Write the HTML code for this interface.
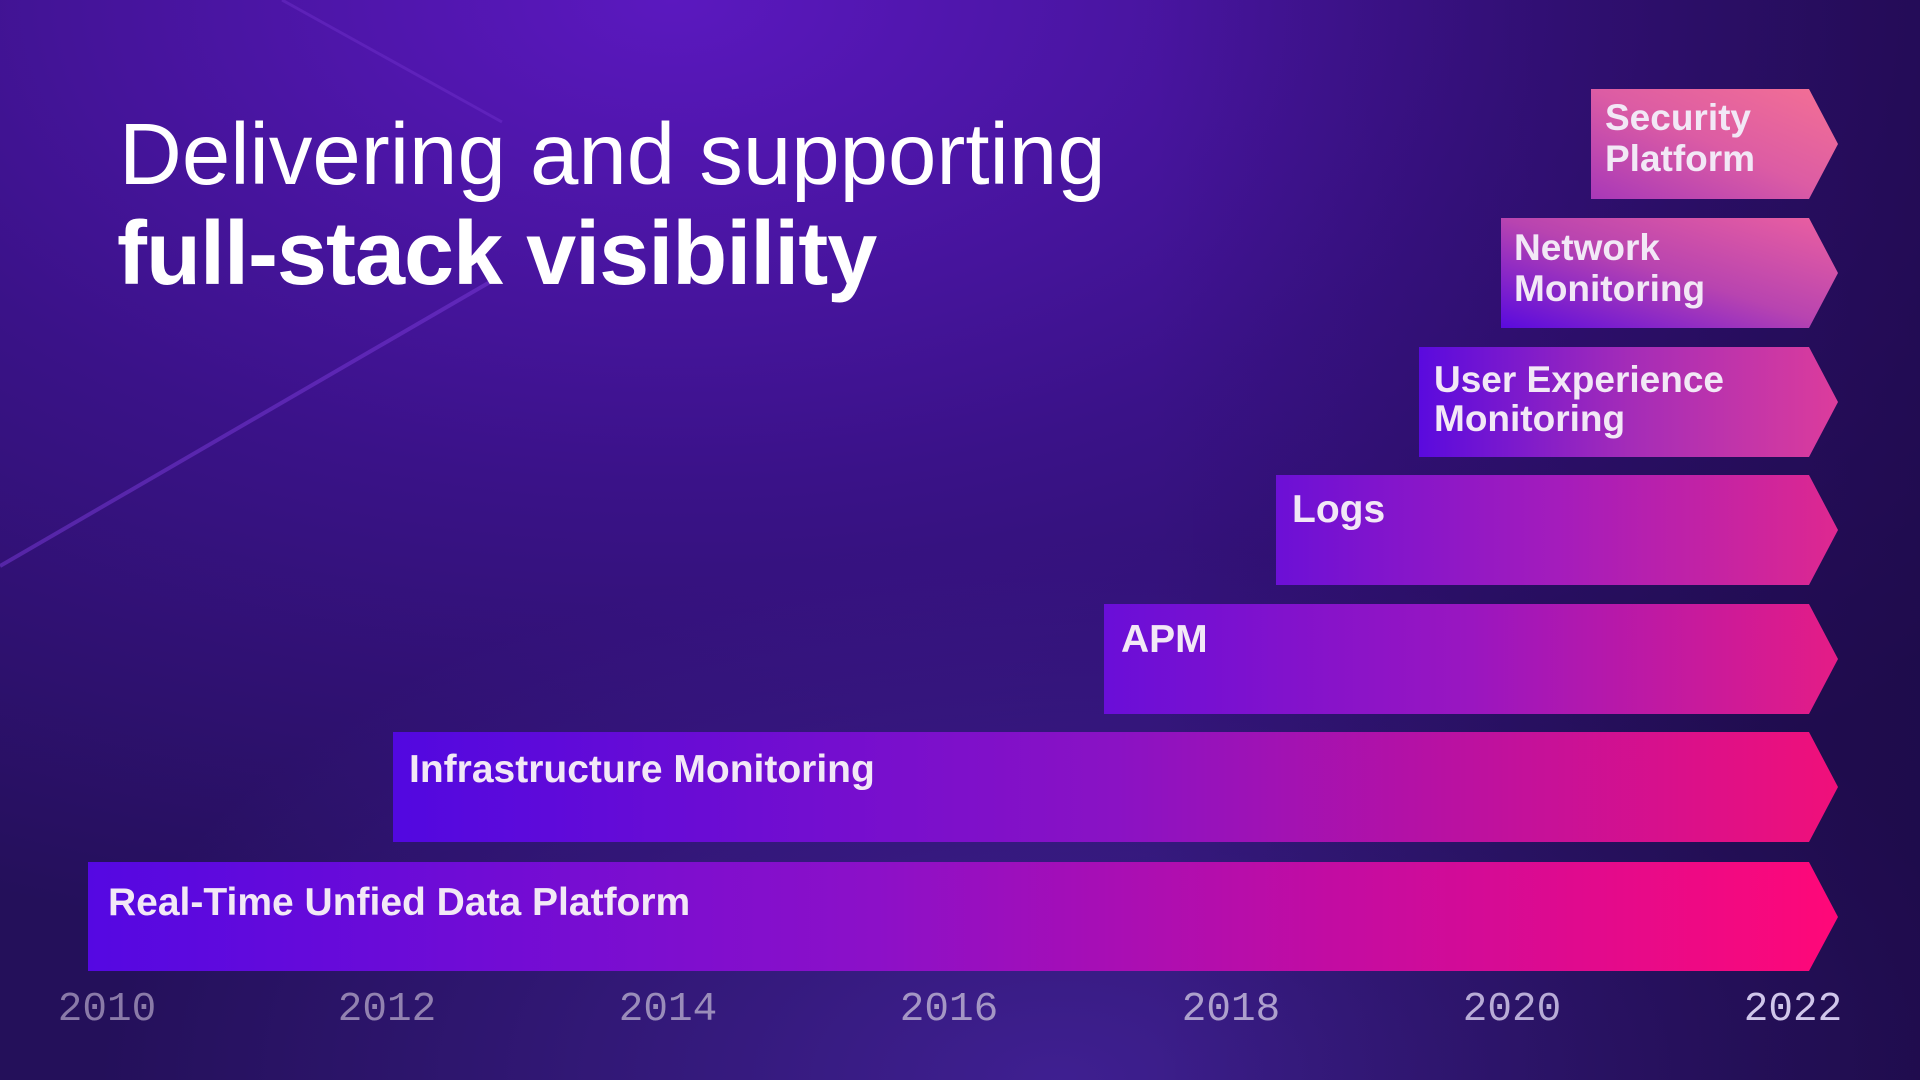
<!DOCTYPE html>
<html><head><meta charset="utf-8"><style>
html,body{margin:0;padding:0;width:1920px;height:1080px;overflow:hidden;background:#2a0f6a}
svg{display:block}
text{font-family:"Liberation Sans",sans-serif}
</style></head><body>
<svg width="1920" height="1080" viewBox="0 0 1920 1080" xmlns="http://www.w3.org/2000/svg">
<defs>
<radialGradient id="bg1" cx="0.35" cy="0" r="0.9">
<stop offset="0" stop-color="#5b18bf"/><stop offset="0.5" stop-color="#3a1288"/><stop offset="1" stop-color="#24105a"/>
</radialGradient>
<radialGradient id="bg2" cx="0.55" cy="1" r="0.5">
<stop offset="0" stop-color="#4a26a8" stop-opacity="0.7"/><stop offset="1" stop-color="#4a26a8" stop-opacity="0"/>
</radialGradient>
<linearGradient id="bgR" x1="0" y1="0" x2="1" y2="0">
<stop offset="0.6" stop-color="#1a0840" stop-opacity="0"/><stop offset="1" stop-color="#1a0840" stop-opacity="0.55"/>
</linearGradient>
<linearGradient id="g1" x1="0" y1="0" x2="1" y2="0"><stop offset="0" stop-color="#5508e2"/><stop offset="0.45" stop-color="#8c10c8"/><stop offset="1" stop-color="#ff0878"/></linearGradient>
<linearGradient id="g2" x1="0" y1="0" x2="1" y2="0"><stop offset="0" stop-color="#5208e0"/><stop offset="0.5" stop-color="#8a12c4"/><stop offset="1" stop-color="#f0107a"/></linearGradient>
<linearGradient id="g3" x1="0" y1="0" x2="1" y2="0"><stop offset="0" stop-color="#6a0ed8"/><stop offset="0.5" stop-color="#9a16c0"/><stop offset="1" stop-color="#e41c86"/></linearGradient>
<linearGradient id="g4" x1="0" y1="0" x2="1" y2="0"><stop offset="0" stop-color="#6c10d6"/><stop offset="0.5" stop-color="#a41cbc"/><stop offset="1" stop-color="#de2890"/></linearGradient>
<linearGradient id="g5" x1="0" y1="0" x2="1" y2="0"><stop offset="0" stop-color="#5a0ade"/><stop offset="0.5" stop-color="#a42cb8"/><stop offset="1" stop-color="#dc3c9c"/></linearGradient>
<linearGradient id="g6" x1="0" y1="1" x2="1" y2="0"><stop offset="0" stop-color="#5a0ade"/><stop offset="0.5" stop-color="#b844b0"/><stop offset="1" stop-color="#ec60a0"/></linearGradient>
<linearGradient id="g7" x1="0" y1="1" x2="1" y2="0"><stop offset="0" stop-color="#a838b8"/><stop offset="0.5" stop-color="#dc5ca4"/><stop offset="1" stop-color="#f47094"/></linearGradient>
</defs>
<rect width="1920" height="1080" fill="url(#bg1)"/>
<rect width="1920" height="1080" fill="url(#bg2)"/>
<rect width="1920" height="1080" fill="url(#bgR)"/>
<line x1="0" y1="566" x2="490" y2="282" stroke="#7a3ad8" stroke-opacity="0.5" stroke-width="4"/>
<line x1="282" y1="0" x2="502" y2="122" stroke="#7a3ad8" stroke-opacity="0.35" stroke-width="3"/>

<text x="119" y="184" font-size="87" fill="#ffffff">Delivering and supporting</text>
<text x="117" y="284" font-size="90" font-weight="bold" fill="#ffffff" letter-spacing="-1">full-stack visibility</text>

<g fill="#f2e8f6" font-size="39" font-weight="bold">
<path d="M1591 89H1809L1838 144L1809 199H1591Z" fill="url(#g7)"/>
<text x="1605" y="130" font-size="37">Security</text><text x="1605" y="171" font-size="37">Platform</text>
<path d="M1501 218H1809L1838 273L1809 328H1501Z" fill="url(#g6)"/>
<text x="1514" y="260" font-size="37">Network</text><text x="1514" y="301" font-size="37">Monitoring</text>
<path d="M1419 347H1809L1838 402L1809 457H1419Z" fill="url(#g5)"/>
<text x="1434" y="392" font-size="37">User Experience</text><text x="1434" y="431" font-size="37">Monitoring</text>
<path d="M1276 475H1809L1838 530L1809 585H1276Z" fill="url(#g4)"/>
<text x="1292" y="522">Logs</text>
<path d="M1104 604H1809L1838 659L1809 714H1104Z" fill="url(#g3)"/>
<text x="1121" y="652">APM</text>
<path d="M393 732H1809L1838 787L1809 842H393Z" fill="url(#g2)"/>
<text x="409" y="782">Infrastructure Monitoring</text>
<path d="M88 862H1809L1838 917L1809 971H88Z" fill="url(#g1)"/>
<text x="108" y="915">Real-Time Unfied Data Platform</text>
</g>

<g font-size="41" text-anchor="middle">
<text x="107" y="1020" fill="#8a7aa8" style="font-family:'Liberation Mono',monospace">2010</text>
<text x="387" y="1020" fill="#9282b0" style="font-family:'Liberation Mono',monospace">2012</text>
<text x="668" y="1020" fill="#9a8cba" style="font-family:'Liberation Mono',monospace">2014</text>
<text x="949" y="1020" fill="#a496c4" style="font-family:'Liberation Mono',monospace">2016</text>
<text x="1231" y="1020" fill="#ada0cc" style="font-family:'Liberation Mono',monospace">2018</text>
<text x="1512" y="1020" fill="#b8acd6" style="font-family:'Liberation Mono',monospace">2020</text>
<text x="1793" y="1020" fill="#d0c6ea" style="font-family:'Liberation Mono',monospace">2022</text>
</g>
</svg>
</body></html>
